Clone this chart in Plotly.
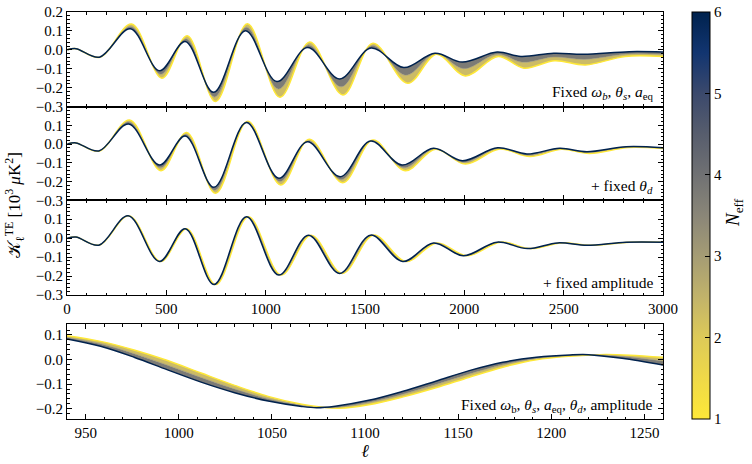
import plotly.graph_objects as go

# ---------------- data ----------------
# N_eff values shown: N_eff = 6 (dark), ~3.5 (middle), 1 (yellow)
NEFF = [6, 3.5, 1]

# Panel 1: Fixed omega_b, theta_s, a_eq
p1_ell_n6 = [2, 45, 163, 319, 466, 595, 738, 898, 1056, 1211, 1372, 1530, 1695, 1852, 1990, 2165, 2285, 2450, 2600, 2830, 3000]
p1_te_n6 = [0.0, 0.006, -0.039, 0.111, -0.111, 0.044, -0.225, 0.101, -0.168, 0.012, -0.154, 0.009, -0.094, -0.018, -0.065, -0.012, -0.035, -0.018, -0.023, -0.010, -0.012]
p1_ell_nm = [2, 45, 164, 322, 472, 600, 743, 903, 1064, 1216, 1380, 1535, 1705, 1856, 1997, 2167, 2292, 2452, 2605, 2820, 3000]
p1_te_nm = [0.0, 0.006, -0.039, 0.123, -0.130, 0.058, -0.250, 0.119, -0.208, 0.026, -0.196, 0.022, -0.135, -0.020, -0.100, -0.023, -0.066, -0.038, -0.051, -0.022, -0.024]
p1_ell_n1 = [2, 45, 165, 325, 478, 605, 748, 908, 1072, 1222, 1389, 1540, 1715, 1860, 2005, 2170, 2300, 2455, 2610, 2810, 3000]
p1_te_n1 = [0.0, 0.006, -0.040, 0.136, -0.150, 0.074, -0.274, 0.138, -0.251, 0.041, -0.239, 0.035, -0.177, -0.023, -0.138, -0.035, -0.097, -0.058, -0.080, -0.035, -0.036]

# Panel 2: + fixed theta_d
p2_ell_n6 = [2, 45, 160, 310, 466, 595, 740, 903, 1066, 1210, 1375, 1528, 1686, 1845, 1990, 2168, 2315, 2480, 2617, 2815, 3000]
p2_te_n6 = [0.0, 0.006, -0.037, 0.107, -0.112, 0.043, -0.231, 0.115, -0.183, 0.012, -0.174, 0.016, -0.112, -0.023, -0.089, -0.020, -0.053, -0.023, -0.041, -0.014, -0.020]
p2_ell_nm = [2, 45, 161, 312, 470, 598, 744, 906, 1071, 1215, 1381, 1534, 1694, 1850, 1997, 2173, 2322, 2485, 2623, 2820, 3000]
p2_te_nm = [0.0, 0.006, -0.037, 0.118, -0.127, 0.052, -0.247, 0.119, -0.200, 0.018, -0.190, 0.018, -0.127, -0.025, -0.098, -0.023, -0.060, -0.025, -0.045, -0.016, -0.022]
p2_ell_n1 = [2, 45, 162, 315, 473, 602, 748, 910, 1076, 1220, 1388, 1540, 1702, 1855, 2005, 2178, 2330, 2490, 2630, 2825, 3000]
p2_te_n1 = [0.0, 0.006, -0.038, 0.128, -0.142, 0.062, -0.263, 0.122, -0.218, 0.025, -0.206, 0.021, -0.142, -0.028, -0.107, -0.027, -0.067, -0.028, -0.050, -0.018, -0.024]

# Panel 3: + fixed amplitude
p3_ell_n6 = [2, 45, 160, 308, 465, 595, 740, 903, 1066, 1215, 1372, 1528, 1690, 1845, 1995, 2165, 2318, 2470, 2617, 2815, 3000]
p3_te_n6 = [0.0, 0.006, -0.037, 0.118, -0.123, 0.050, -0.245, 0.113, -0.195, 0.016, -0.186, 0.016, -0.123, -0.025, -0.093, -0.021, -0.055, -0.025, -0.037, -0.021, -0.021]
p3_ell_nm = [2, 45, 161, 310, 468, 598, 744, 908, 1072, 1221, 1379, 1535, 1698, 1853, 2003, 2173, 2326, 2478, 2625, 2823, 3000]
p3_te_nm = [0.0, 0.006, -0.037, 0.118, -0.123, 0.050, -0.245, 0.113, -0.195, 0.016, -0.186, 0.016, -0.123, -0.025, -0.093, -0.021, -0.055, -0.025, -0.037, -0.021, -0.021]
p3_ell_n1 = [2, 45, 162, 312, 471, 602, 749, 913, 1078, 1228, 1386, 1543, 1706, 1862, 2012, 2182, 2335, 2487, 2634, 2832, 3000]
p3_te_n1 = [0.0, 0.006, -0.037, 0.118, -0.123, 0.050, -0.245, 0.113, -0.195, 0.016, -0.186, 0.016, -0.123, -0.025, -0.093, -0.021, -0.055, -0.025, -0.037, -0.021, -0.021]

# Panel 4: Fixed omega_b, theta_s, a_eq, theta_d, amplitude (zoom)
p4_ell_n6 = [940, 958, 976, 994, 1012, 1030, 1048, 1066, 1074, 1084, 1102, 1120, 1138, 1156, 1174, 1192, 1210, 1220, 1238, 1260]
p4_te_n6 = [0.084, 0.054, 0.0095, -0.042, -0.092, -0.135, -0.169, -0.191, -0.196, -0.190, -0.166, -0.130, -0.088, -0.045, -0.011, 0.0095, 0.019, 0.020, 0.005, -0.022]
p4_ell_nm = [940, 958, 976, 994, 1012, 1030, 1048, 1066, 1075, 1085, 1102, 1120, 1138, 1156, 1174, 1192, 1210, 1223, 1240, 1260]
p4_te_nm = [0.090, 0.064, 0.024, -0.023, -0.073, -0.120, -0.160, -0.187, -0.195, -0.195, -0.175, -0.142, -0.102, -0.059, -0.021, 0.004, 0.016, 0.020, 0.012, -0.006]
p4_ell_n1 = [940, 958, 976, 994, 1012, 1030, 1048, 1066, 1076, 1086, 1102, 1120, 1138, 1156, 1174, 1192, 1210, 1226, 1242, 1260]
p4_te_n1 = [0.097, 0.074, 0.039, -0.004, -0.055, -0.105, -0.150, -0.182, -0.193, -0.198, -0.184, -0.153, -0.115, -0.072, -0.031, -0.001, 0.0135, 0.020, 0.018, 0.009]

# tick labels
x_ticks_full = [0, 500, 1000, 1500, 2000, 2500, 3000]
x_ticks_zoom = [950, 1000, 1050, 1100, 1150, 1200, 1250]
y_ticks_top = [-0.3, -0.2, -0.1, 0.0, 0.1, 0.2]
y_ticks_mid = [-0.3, -0.2, -0.1, 0.0, 0.1]
y_ticks_zoom = [-0.2, -0.1, 0.0, 0.1]
cbar_ticks = [1, 2, 3, 4, 5, 6]

panel_labels = [
    "Fixed <i>ω</i><sub><i>b</i></sub>, <i>θ</i><sub><i>s</i></sub>, <i>a</i><sub>eq</sub>",
    "+ fixed <i>θ</i><sub><i>d</i></sub>",
    "+ fixed amplitude",
    "Fixed <i>ω</i><sub>b</sub>, <i>θ</i><sub><i>s</i></sub>, <i>a</i><sub>eq</sub>, <i>θ</i><sub><i>d</i></sub>, amplitude",
]

# ---------------- styling ----------------
FONT = "Liberation Serif"
# matplotlib cividis (dark -> yellow), reversed so N_eff=1 is yellow
cividis = [
    (0, 34, 78), (18, 53, 112), (59, 73, 108), (87, 93, 109), (112, 113, 115),
    (138, 134, 120), (165, 156, 116), (193, 179, 106), (221, 202, 88),
    (239, 217, 72), (254, 232, 56),
]
colorscale = [[i / 10, "rgb(%d,%d,%d)" % c] for i, c in enumerate(reversed(cividis))]

DARK = "rgb(0,34,78)"
MIDL = "rgb(160,152,117)"
YEL = "rgb(254,232,56)"
FILL_Y = "rgb(204,187,102)"
FILL_D = "rgb(124,123,118)"

W, H = 752, 464
ML, MR, MT, MB = 67, 89, 12, 45
PH = H - MT - MB
PW = W - ML - MR


def py(sy):
    return (H - MB - sy) / PH


def pxx(sx):
    return (sx - ML) / PW


domains = [
    [py(106.5), 1.0],
    [py(200.3), py(106.5)],
    [py(295.0), py(200.3)],
    [0.0, py(324.3)],
]

fig = go.Figure()

panels = [
    (p1_ell_n1, p1_te_n1, p1_ell_nm, p1_te_nm, p1_ell_n6, p1_te_n6),
    (p2_ell_n1, p2_te_n1, p2_ell_nm, p2_te_nm, p2_ell_n6, p2_te_n6),
    (p3_ell_n1, p3_te_n1, p3_ell_nm, p3_te_nm, p3_ell_n6, p3_te_n6),
    (p4_ell_n1, p4_te_n1, p4_ell_nm, p4_te_nm, p4_ell_n6, p4_te_n6),
]

for i, (e1, t1, em, tm, e6, t6) in enumerate(panels):
    xa = "x" if i == 0 else "x%d" % (i + 1)
    ya = "y" if i == 0 else "y%d" % (i + 1)
    fig.add_trace(go.Scatter(x=e1, y=t1, xaxis=xa, yaxis=ya, mode="lines",
                             line=dict(color=YEL, width=1.5, shape="spline"),
                             hoverinfo="skip", showlegend=False))
    fig.add_trace(go.Scatter(x=em, y=tm, xaxis=xa, yaxis=ya, mode="lines",
                             line=dict(color=MIDL, width=0.6, shape="spline"),
                             fill="tonexty", fillcolor=FILL_Y,
                             hoverinfo="skip", showlegend=False))
    fig.add_trace(go.Scatter(x=e6, y=t6, xaxis=xa, yaxis=ya, mode="lines",
                             line=dict(color=DARK, width=1.5, shape="spline"),
                             fill="tonexty", fillcolor=FILL_D,
                             hoverinfo="skip", showlegend=False))

# colorbar carrier
fig.add_trace(go.Scatter(
    x=[1000], y=[0], xaxis="x4", yaxis="y4", mode="markers",
    marker=dict(color=[1], cmin=1, cmax=6, colorscale=colorscale, opacity=0, size=1,
                showscale=True,
                colorbar=dict(
                    x=pxx(692), xanchor="left", y=0, yanchor="bottom",
                    len=1, lenmode="fraction", thickness=18, thicknessmode="pixels",
                    xpad=0, ypad=0, outlinewidth=1, outlinecolor="black",
                    tickmode="array", tickvals=cbar_ticks, ticks="inside", ticklen=5,
                    tickcolor="black", tickwidth=1, ticklabeloverflow="allow",
                    tickfont=dict(family=FONT, size=15, color="black"),
                )),
    hoverinfo="skip", showlegend=False))

axis_common = dict(showline=True, linecolor="black", linewidth=1, mirror="allticks",
                   ticks="inside", ticklen=5, tickwidth=1, tickcolor="black",
                   showgrid=False, zeroline=False, automargin=False,
                   ticklabeloverflow="allow",
                   tickfont=dict(family=FONT, size=15, color="black"))

layout = dict(width=W, height=H, margin=dict(l=ML, r=MR, t=MT, b=MB),
              paper_bgcolor="white", plot_bgcolor="white",
              font=dict(family=FONT, size=15, color="black"), showlegend=False)

for i in range(4):
    xk = "xaxis" if i == 0 else "xaxis%d" % (i + 1)
    yk = "yaxis" if i == 0 else "yaxis%d" % (i + 1)
    ya = "y" if i == 0 else "y%d" % (i + 1)
    xa = "x" if i == 0 else "x%d" % (i + 1)
    if i < 3:
        xax = dict(axis_common, domain=[0, 1], anchor=ya, range=[0, 3000],
                   tickmode="array", tickvals=x_ticks_full,
                   showticklabels=(i == 2),
                   minor=dict(dtick=100, tick0=0, ticks="inside", ticklen=2.5, tickcolor="black"))
        yvals = y_ticks_top if i == 0 else y_ticks_mid
        yax = dict(axis_common, domain=domains[i], anchor=xa, range=[-0.3, 0.2],
                   tickmode="array", tickvals=yvals, tickformat=".1f",
                   minor=dict(dtick=0.02, tick0=0, ticks="inside", ticklen=2.5, tickcolor="black"))
    else:
        xax = dict(axis_common, domain=[0, 1], anchor=ya, range=[940, 1260],
                   tickmode="array", tickvals=x_ticks_zoom,
                   minor=dict(dtick=10, tick0=0, ticks="inside", ticklen=2.5, tickcolor="black"),
                   title=dict(text="<i>ℓ</i>", font=dict(family=FONT, size=18), standoff=2))
        yax = dict(axis_common, domain=domains[i], anchor=xa, range=[-0.242, 0.1435],
                   tickmode="array", tickvals=y_ticks_zoom, tickformat=".1f",
                   minor=dict(dtick=0.02, tick0=0, ticks="inside", ticklen=2.5, tickcolor="black"))
    layout[xk] = xax
    layout[yk] = yax

annotations = []
for i, txt in enumerate(panel_labels):
    annotations.append(dict(text=txt, xref="paper", yref="paper",
                            x=pxx(655), y=domains[i][0] + 2 / PH,
                            xanchor="right", yanchor="bottom", showarrow=False,
                            font=dict(family=FONT, size=15.5, color="black")))
annotations.append(dict(text="𝒦<sub>ℓ</sub><sup>TE</sup> [10<sup>3</sup> <i>μ</i>K<sup>2</sup>]",
                        xref="paper", yref="paper", x=pxx(14), y=py(205),
                        xanchor="center", yanchor="middle", textangle=-90, showarrow=False,
                        font=dict(family=FONT, size=17, color="black")))
annotations.append(dict(text="<i>N</i><sub>eff</sub>", xref="paper", yref="paper",
                        x=pxx(734), y=py(213), xanchor="center", yanchor="middle",
                        textangle=-90, showarrow=False,
                        font=dict(family=FONT, size=19, color="black")))
layout["annotations"] = annotations

# colorbar minor ticks
shapes = []
for k in range(25):
    v = 1 + 0.2 * k
    if abs(v - round(v)) < 1e-6:
        continue
    yy = (v - 1) / 5
    shapes.append(dict(type="line", xref="paper", yref="paper",
                       x0=pxx(710) - 2.5 / PW, x1=pxx(710), y0=yy, y1=yy,
                       line=dict(color="black", width=1)))
layout["shapes"] = shapes

fig.update_layout(**layout)
# remove the browser's default 8px body margin so the figure sits at the page origin
fig.write_html("out.html", config={"displayModeBar": False},
               post_script="document.body.style.margin='0';document.body.style.overflow='hidden';")
